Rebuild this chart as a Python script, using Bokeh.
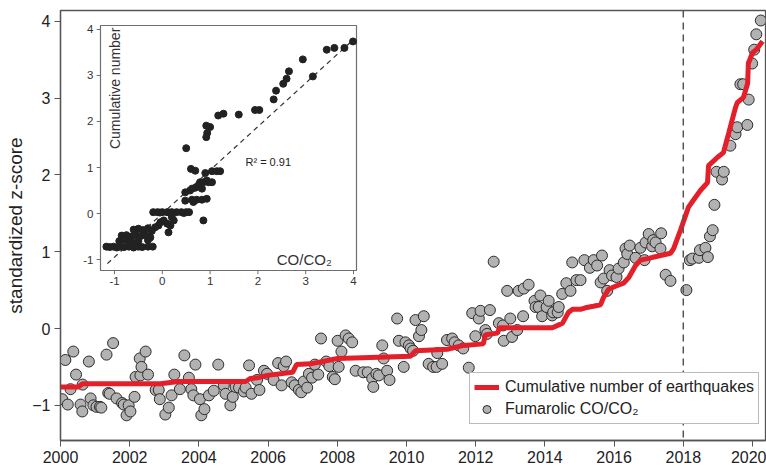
from bokeh.plotting import figure
from bokeh.models import Range1d, Span, Legend, LegendItem, FixedTicker
from bokeh.embed import file_html
from bokeh.resources import INLINE
from bokeh.core.properties import value

FONT = "Liberation Sans"

# ---------------- data ----------------
co_year = [
    2000.05, 2000.14, 2000.21, 2000.29, 2000.37, 2000.45, 2000.58, 2000.63, 2000.64, 2000.82,
    2000.87, 2000.95, 2001.04, 2001.14, 2001.18, 2001.33, 2001.38, 2001.42, 2001.52, 2001.62,
    2001.78, 2001.83, 2001.91, 2001.97, 2002.02, 2002.14, 2002.17, 2002.29, 2002.31, 2002.34,
    2002.46, 2002.53, 2002.75, 2002.84, 2002.87, 2003.03, 2003.13, 2003.21, 2003.29, 2003.45,
    2003.58, 2003.71, 2003.78, 2003.84, 2003.90, 2004.03, 2004.07, 2004.16, 2004.29, 2004.43,
    2004.56, 2004.72, 2004.77, 2004.91, 2004.98, 2005.06, 2005.16, 2005.30, 2005.35, 2005.45,
    2005.52, 2005.68, 2005.75, 2005.88, 2005.97, 2006.16, 2006.29, 2006.39, 2006.45, 2006.52,
    2006.68, 2006.77, 2006.89, 2006.96, 2007.03, 2007.13, 2007.18, 2007.27, 2007.35, 2007.45,
    2007.53, 2007.68, 2007.77, 2007.87, 2007.93, 2008.01, 2008.04, 2008.12, 2008.24, 2008.33,
    2008.43, 2008.53, 2008.75, 2008.88, 2009.01, 2009.04, 2009.13, 2009.20, 2009.30, 2009.34,
    2009.44, 2009.51, 2009.73, 2009.78, 2009.92, 2009.97, 2010.07, 2010.12, 2010.19, 2010.26,
    2010.36, 2010.43, 2010.50, 2010.64, 2010.77, 2010.87, 2010.89, 2011.03, 2011.17, 2011.32,
    2011.39, 2011.51, 2011.64, 2011.80, 2011.90, 2011.99, 2012.09, 2012.14, 2012.28, 2012.33,
    2012.41, 2012.52, 2012.67, 2012.79, 2012.81, 2012.91, 2013.00, 2013.05, 2013.20, 2013.24,
    2013.37, 2013.39, 2013.53, 2013.70, 2013.73, 2013.82, 2013.87, 2013.92, 2014.05, 2014.11,
    2014.21, 2014.24, 2014.37, 2014.40, 2014.50, 2014.62, 2014.74, 2014.79, 2014.91, 2015.03,
    2015.14, 2015.30, 2015.41, 2015.51, 2015.61, 2015.65, 2015.70, 2015.80, 2015.87, 2015.94,
    2016.07, 2016.13, 2016.28, 2016.33, 2016.38, 2016.45, 2016.62, 2016.76, 2016.88, 2016.91,
    2017.00, 2017.10, 2017.13, 2017.20, 2017.34, 2017.36, 2017.49, 2017.63, 2018.09, 2018.19,
    2018.26, 2018.45, 2018.48, 2018.64, 2018.71, 2018.77, 2018.85, 2018.90, 2018.96, 2019.12,
    2019.17, 2019.36, 2019.51, 2019.56, 2019.65, 2019.73, 2019.85, 2019.89, 2019.99, 2020.05,
    2020.11, 2020.24,
]
co_z = [
    -0.92, -0.41, -0.99, -0.79, -0.30, -0.60, -0.99, -1.08, -0.73, -0.43,
    -0.91, -1.00, -1.02, -1.02, -1.03, -0.34, -0.84, -0.85, -0.19, -0.91,
    -0.97, -0.99, -1.13, -1.00, -1.08, -0.89, -0.63, -0.39, -0.61, -0.50,
    -0.30, -0.60, -0.80, -0.80, -0.92, -1.12, -1.03, -0.87, -0.60, -0.79,
    -0.35, -0.64, -0.79, -0.87, -0.47, -0.92, -1.13, -1.05, -0.87, -0.81,
    -0.47, -0.74, -0.85, -1.00, -0.89, -0.76, -0.77, -0.82, -0.77, -0.48,
    -0.85, -0.67, -0.80, -0.55, -0.59, -0.67, -0.45, -0.74, -0.49, -0.43,
    -0.70, -0.74, -0.80, -0.83, -0.69, -0.77, -0.59, -0.64, -0.47, -0.60,
    -0.13, -0.43, -0.49, -0.63, -0.66, -0.16, -0.50, -0.30, -0.09, -0.13,
    -0.18, -0.55, -0.57, -0.57, -0.65, -0.76, -0.59, -0.61, -0.22, -0.39,
    -0.55, -0.67, 0.13, -0.16, -0.50, -0.18, -0.22, -0.26, -0.29, 0.11,
    -0.10, -0.02, 0.16, -0.46, -0.50, -0.50, -0.32, -0.46, -0.15, -0.13,
    -0.18, -0.22, -0.26, -0.51, 0.20, -0.10, 0.13, 0.23, -0.02, -0.07,
    0.24, 0.87, 0.07, 0.04, -0.16, 0.49, 0.13, -0.11, -0.02, 0.49,
    0.16, 0.52, 0.57, 0.36, 0.28, 0.28, 0.43, 0.16, 0.28, 0.36,
    0.17, 0.21, 0.21, 0.28, 0.45, 0.59, 0.49, 0.86, 0.63, 0.63,
    0.89, 0.79, 0.89, 0.82, 0.60, 0.95, 0.65, 0.49, 0.76, 0.69,
    0.67, 0.78, 0.86, 1.04, 0.97, 1.08, 0.92, 1.05, 0.89, 1.12,
    1.23, 1.07, 1.15, 1.12, 1.04, 1.24, 0.70, 0.62, 0.50, 0.89,
    0.91, 0.92, 1.02, 1.05, 0.93, 1.20, 1.28, 1.61, 2.04, 1.94,
    2.04, 2.38, 2.53, 2.62, 3.18, 3.18, 2.65, 2.98, 3.45, 3.63,
    3.83, 4.01,
]

eq_year = [
    2000.00, 2000.52, 2000.64, 2002.89, 2003.41, 2005.35, 2005.49, 2005.72, 2005.98, 2006.71,
    2006.82, 2007.23, 2008.01, 2010.12, 2010.26, 2011.18, 2011.65, 2012.22, 2012.28, 2012.63,
    2012.69, 2014.22, 2014.51, 2014.68, 2014.80, 2015.03, 2015.17, 2015.40, 2015.61, 2015.69,
    2015.84, 2016.04, 2016.27, 2016.42, 2016.62, 2016.76, 2016.96, 2017.25, 2017.63, 2017.72,
    2017.92, 2018.15, 2018.29, 2018.50, 2018.70, 2018.73, 2018.99, 2019.16, 2019.31, 2019.51,
    2019.56, 2019.74, 2019.86, 2019.88, 2020.00, 2020.11, 2020.29,
]
eq_z = [
    -0.76, -0.76, -0.72, -0.72, -0.69, -0.69, -0.65, -0.64, -0.61, -0.57,
    -0.47, -0.46, -0.39, -0.36, -0.29, -0.27, -0.22, -0.20, -0.08, -0.06,
    0.01, 0.01, 0.07, 0.21, 0.25, 0.25, 0.27, 0.29, 0.31, 0.40,
    0.51, 0.55, 0.59, 0.66, 0.82, 0.89, 0.91, 0.94, 0.98, 1.04,
    1.28, 1.58, 1.67, 1.80, 1.90, 2.12, 2.23, 2.29, 2.54, 2.88,
    2.94, 3.01, 3.19, 3.45, 3.59, 3.63, 3.74,
]

# inset: CO/CO2 (x) vs cumulative number of earthquakes (y)
inset_co = [
    3.99, 3.81, 3.60, 3.44, 2.94, 3.15, 2.65, 2.60, 2.53, 2.38,
    2.33, 2.03, 1.94, 1.60, 1.28, 1.17, 1.00, 0.92, 0.94, 0.92,
    0.50, 0.60, 0.69, 0.90, 1.04, 1.14, 1.21, 0.79, 0.86, 0.93,
    1.04, 0.97, 0.48, 0.58, 0.69, 0.76, 0.83, 0.62, 0.48, 0.62,
    0.72, 0.83, 0.93, 0.65, 0.86, -0.19, -0.10, 0.00, 0.10, 0.20,
    0.30, 0.40, 0.50, 0.56, 0.45, -0.05, 0.15, 0.20, 0.17, 0.10,
    0.03, -0.04, -0.08, -0.15, 0.24, 0.13,
    -0.60, -0.50, -0.40, -0.30, -0.22,
    -0.85, -0.75, -0.65, -0.55, -0.45, -0.35, -0.25,
    -0.90, -0.70, -0.50, -0.30, -0.80, -0.60,
    -1.17, -1.10, -1.02, -0.95, -0.88, -0.80, -0.70, -0.60, -0.50, -0.42, -0.30, -0.20,
]
inset_eq = [
    3.74, 3.60, 3.60, 3.56, 3.35, 2.98, 3.09, 2.93, 2.82, 2.67,
    2.48, 2.25, 2.25, 2.15, 2.17, 2.13, 1.88, 1.91, 1.75, 1.66,
    1.42, 0.97, 0.93, 0.88, 0.92, 0.92, 0.92, 0.68, 0.68, 0.72,
    0.68, 0.68, 0.46, 0.50, 0.56, 0.59, 0.54, 0.54, 0.28, 0.30,
    0.30, 0.30, 0.32, 0.25, -0.15, 0.03, 0.03, 0.03, 0.03, 0.03,
    0.03, 0.03, 0.03, 0.03, 0.01, 0.02, 0.02, -0.08, -0.26, -0.22,
    -0.15, -0.19, -0.26, -0.30, -0.15, -0.41,
    -0.35, -0.33, -0.36, -0.32, -0.38,
    -0.48, -0.47, -0.50, -0.46, -0.49, -0.47, -0.52,
    -0.60, -0.62, -0.60, -0.58, -0.57, -0.64,
    -0.72, -0.73, -0.72, -0.74, -0.72, -0.73, -0.72, -0.74, -0.72, -0.73, -0.72, -0.72,
]
fit_x = [-1.15, 4.0]
fit_y = [-1.09, 3.78]
r2_label = "R² = 0.91"

x_ticks = [2000, 2002, 2004, 2006, 2008, 2010, 2012, 2014, 2016, 2018, 2020]
y_ticks = [-1, 0, 1, 2, 3, 4]
inset_ticks = [-1, 0, 1, 2, 3, 4]
event_year = 2018

# ---------------- figure ----------------
p = figure(width=766, height=470,
           x_range=Range1d(2000, 2020.376), y_range=Range1d(-1.458, 4.14),
           output_backend="svg", toolbar_location=None,
           min_border_left=60, min_border_right=1, min_border_top=10, min_border_bottom=30)
p.xgrid.visible = False
p.ygrid.visible = False
p.outline_line_color = "#555555"
p.outline_line_width = 1.3
p.background_fill_color = "white"
p.border_fill_color = "white"

for ax in (p.xaxis[0], p.yaxis[0]):
    ax.axis_line_color = "#555555"
    ax.axis_line_width = 1.3
    ax.major_tick_line_color = "#555555"
    ax.major_tick_in = 0
    ax.major_tick_out = 6
    ax.minor_tick_line_color = None
    ax.major_label_text_font = FONT
    ax.major_label_text_font_size = "16px"
    ax.major_label_text_color = "#222222"

p.xaxis.ticker = FixedTicker(ticks=x_ticks)
p.yaxis.ticker = FixedTicker(ticks=y_ticks)
p.xaxis.major_label_standoff = 4
p.yaxis.major_label_standoff = 4
p.yaxis.axis_label = "standardized z-score"
p.yaxis.axis_label_text_font = FONT
p.yaxis.axis_label_text_font_size = "19px"
p.yaxis.axis_label_text_font_style = "normal"
p.yaxis.axis_label_text_color = "#222222"
p.yaxis.axis_label_standoff = 3

p.add_layout(Span(location=event_year, dimension="height", line_color="#555555",
                  line_width=1.5, line_dash="7 5"))

r_pts = p.scatter(co_year, co_z, size=11, fill_color="#b2b2b2", line_color="#2b2b2b",
                  line_width=1)
r_line = p.line(eq_year, eq_z, line_width=5, line_color="#e3202a")

# ---------------- inset ----------------
ix0, ix1 = -1.293, 4.063
iy0, iy1 = -1.239, 4.087
inset = p.subplot(x_source=Range1d(ix0, ix1), y_source=Range1d(iy0, iy1),
                  x_target=Range1d(2001.156, 2008.555), y_target=Range1d(0.755, 3.945))

inset.quad(left=[ix0], right=[ix1], bottom=[iy0], top=[iy1],
           fill_color="white", line_color="#6e6e6e", line_width=1.2)
inset.line(fit_x, fit_y, line_color="#333333", line_width=1.2, line_dash="5 4")
inset.scatter(inset_co, inset_eq, size=7, fill_color="#222222", line_color="#222222")

n = len(inset_ticks)
inset.segment(x0=[ix0] * n, y0=inset_ticks, x1=[ix0 - 0.08] * n, y1=inset_ticks,
              line_color="#6e6e6e", line_width=1)
inset.segment(x0=inset_ticks, y0=[iy0] * n, x1=inset_ticks, y1=[iy0 - 0.08] * n,
              line_color="#6e6e6e", line_width=1)
inset.text(x=[ix0] * n, y=inset_ticks, text=[str(t) for t in inset_ticks],
           x_offset=-7, text_align="right", text_baseline="middle",
           text_font=value(FONT), text_font_size="11.5px", text_color="#333333")
inset.text(x=inset_ticks, y=[iy0] * n, text=[str(t) for t in inset_ticks],
           y_offset=6, text_align="center", text_baseline="top",
           text_font=value(FONT), text_font_size="11.5px", text_color="#333333")
inset.text(x=[-0.99], y=[2.72], text=["Cumulative number"], angle=1.5708,
           text_align="center", text_baseline="middle",
           text_font=value(FONT), text_font_size="14px", text_color="#333333")
inset.text(x=[2.97], y=[-1.0], text=["CO/CO₂"],
           text_align="center", text_baseline="middle",
           text_font=value(FONT), text_font_size="15px", text_color="#333333")
inset.text(x=[1.74], y=[1.11], text=[r2_label],
           text_align="left", text_baseline="middle",
           text_font=value(FONT), text_font_size="11px", text_color="#222222")

# ---------------- legend ----------------
legend = Legend(items=[LegendItem(label="Cumulative number of earthquakes", renderers=[r_line]),
                       LegendItem(label="Fumarolic CO/CO₂", renderers=[r_pts])],
                location=(409, 16))
legend.label_text_font = FONT
legend.label_text_font_size = "16px"
legend.label_text_color = "#222222"
legend.border_line_color = "#777777"
legend.border_line_width = 1
legend.background_fill_alpha = 1
legend.glyph_width = 25
legend.glyph_height = 20
legend.label_height = 20
legend.label_standoff = 6
legend.padding = 4
legend.spacing = 2
legend.margin = 0
p.add_layout(legend)

open("out.html", "w").write(file_html(p, INLINE))
